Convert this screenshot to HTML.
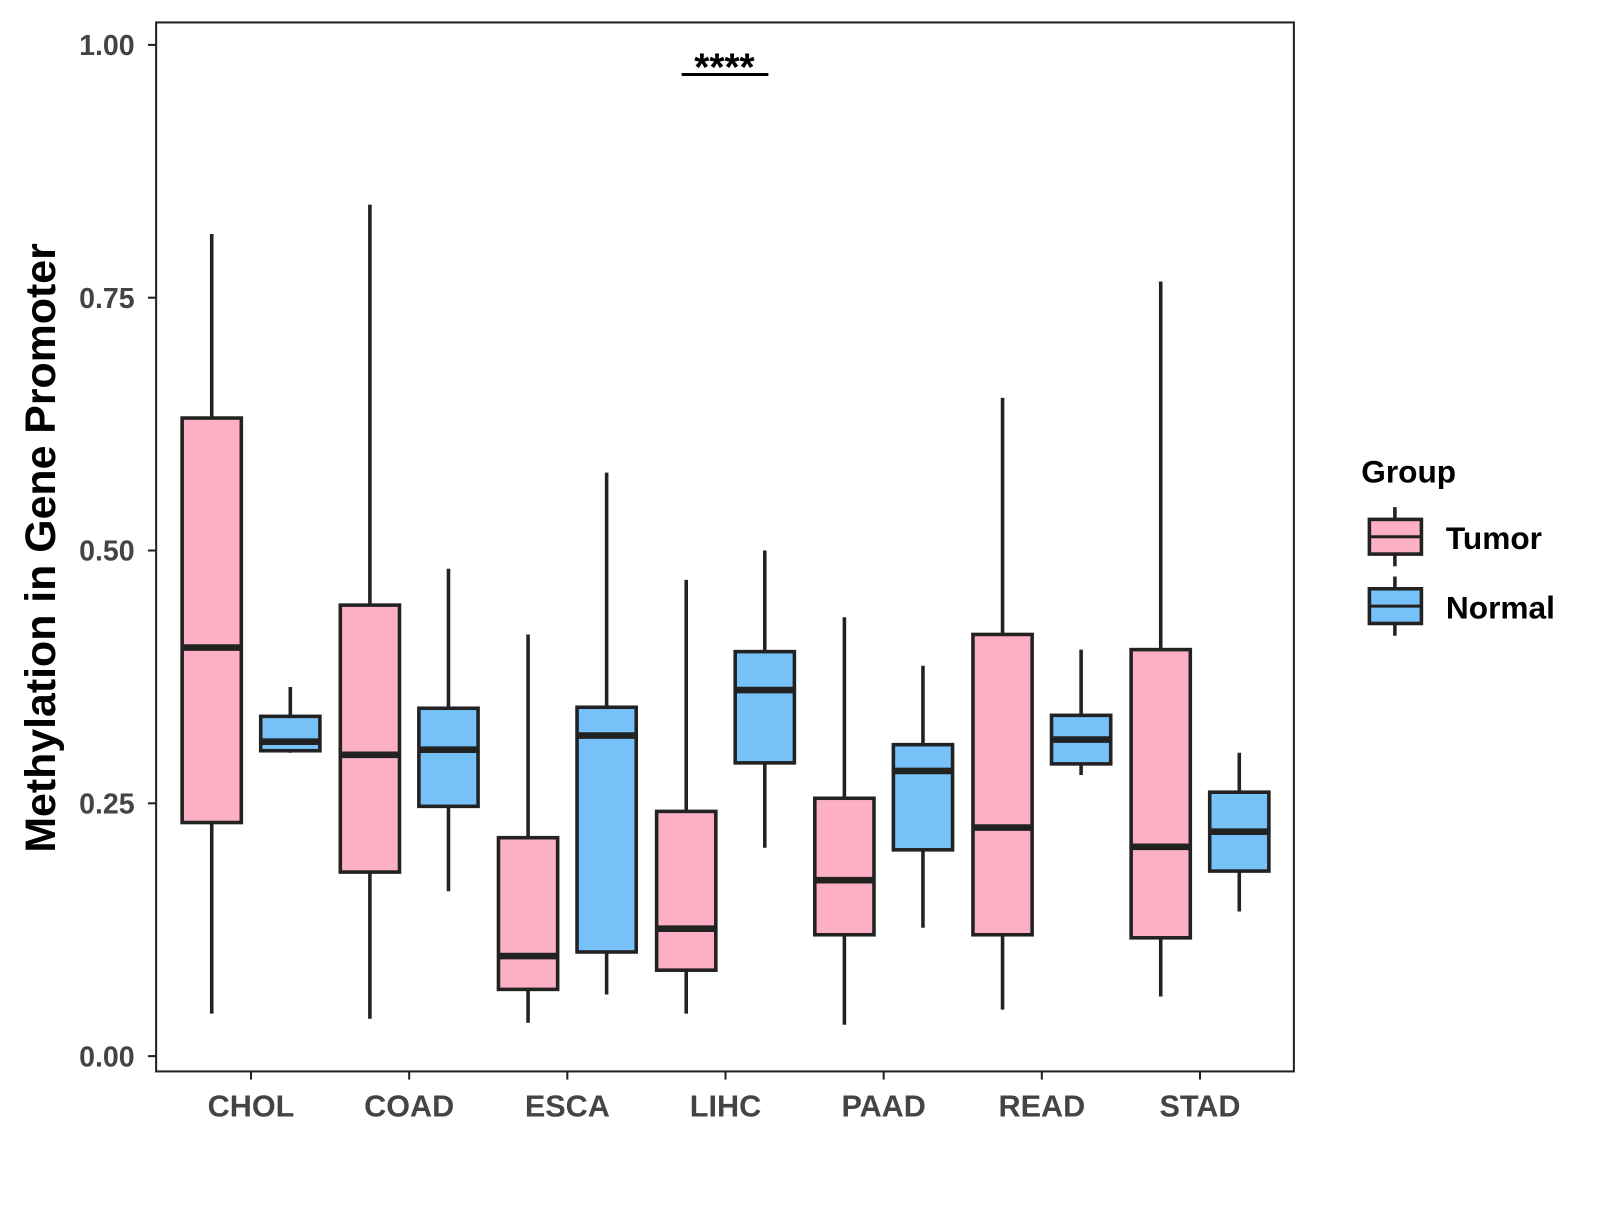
<!DOCTYPE html>
<html><head><meta charset="utf-8"><style>
body{margin:0;background:#fff}
svg text{font-family:"Liberation Sans",Arial,sans-serif;font-weight:bold}
</style></head><body>
<svg id="chart" width="1600" height="1200" viewBox="0 0 1568 1176" xmlns="http://www.w3.org/2000/svg">
<rect x="153" y="22" width="1115" height="1028" fill="#fff" stroke="#222" stroke-width="2"/>
<g id="marks"></g>
<g id="axes"></g>
<text x="0" y="0" transform="translate(54,537) rotate(-90)" text-anchor="middle" font-size="42" fill="#000">Methylation in Gene Promoter</text>
<g>
<line x1="668" y1="73" x2="753" y2="73" stroke="#000" stroke-width="3"/>
<text x="710" y="79" text-anchor="middle" font-size="38" fill="#000">****</text>
</g>
<g>
<text x="1334" y="473" font-size="31" fill="#000">Group</text>
<g>
<line x1="1367" y1="497" x2="1367" y2="555" stroke="#222" stroke-width="3.5"/>
<rect x="1342" y="509" width="51" height="34" fill="#FDB0C3" stroke="#222" stroke-width="3.5"/>
<line x1="1342" y1="526" x2="1393" y2="526" stroke="#222" stroke-width="3"/>
<text x="1417" y="538" font-size="31" fill="#000">Tumor</text>
</g>
<g>
<line x1="1367" y1="565" x2="1367" y2="623" stroke="#222" stroke-width="3.5"/>
<rect x="1342" y="577" width="51" height="34" fill="#75C1F8" stroke="#222" stroke-width="3.5"/>
<line x1="1342" y1="594" x2="1393" y2="594" stroke="#222" stroke-width="3"/>
<text x="1417" y="606" font-size="31" fill="#000">Normal</text>
</g>
</g>
</svg>
<script>
const categories=["CHOL","COAD","ESCA","LIHC","PAAD","READ","STAD"];
const tumorLow=[0.042,0.037,0.033,0.042,0.031,0.046,0.059];
const tumorQ1=[0.231,0.182,0.066,0.085,0.120,0.120,0.117];
const tumorMed=[0.404,0.298,0.099,0.126,0.174,0.226,0.207];
const tumorQ3=[0.631,0.446,0.216,0.242,0.255,0.417,0.402];
const tumorHigh=[0.813,0.842,0.417,0.471,0.434,0.651,0.766];
const normalLow=[0.300,0.163,0.061,0.206,0.127,0.278,0.143];
const normalQ1=[0.302,0.247,0.103,0.290,0.204,0.289,0.183];
const normalMed=[0.311,0.303,0.317,0.362,0.282,0.313,0.222];
const normalQ3=[0.336,0.344,0.345,0.400,0.308,0.337,0.261];
const normalHigh=[0.365,0.482,0.577,0.500,0.386,0.402,0.300];
const yTicks=[0,0.25,0.5,0.75,1.0];
const yTickLabels=["0.00","0.25","0.50","0.75","1.00"];

const NS="http://www.w3.org/2000/svg";
const y=v=>1035-v*991;
const x=i=>246+i*155;
function mk(tag,attrs,parent){const e=document.createElementNS(NS,tag);for(const k in attrs)e.setAttribute(k,attrs[k]);parent.appendChild(e);return e;}
const marks=document.getElementById('marks'),axes=document.getElementById('axes');
const groups=[["tumor",-38.5,"#FDB0C3",tumorLow,tumorQ1,tumorMed,tumorQ3,tumorHigh],["normal",38.5,"#75C1F8",normalLow,normalQ1,normalMed,normalQ3,normalHigh]];
categories.forEach((c,i)=>{
 groups.forEach(g=>{
  const cx=x(i)+g[1],w=58;
  const grp=mk('g',{},marks);
  
  
  mk('line',{x1:cx,x2:cx,y1:y(g[7][i]),y2:y(g[3][i]),stroke:'#222','stroke-width':3.5},grp);
  mk('rect',{x:cx-w/2,y:y(g[6][i]),width:w,height:y(g[4][i])-y(g[6][i]),fill:g[2],stroke:'#222','stroke-width':3.5},grp);
  mk('line',{x1:cx-w/2,x2:cx+w/2,y1:y(g[5][i]),y2:y(g[5][i]),stroke:'#222','stroke-width':6.5},grp);
 });
 const t=mk('line',{x1:x(i),x2:x(i),y1:1050,y2:1058,stroke:'#222','stroke-width':2},axes);
 
 
 const l=mk('text',{x:x(i),y:1094,'text-anchor':'middle','font-size':30,fill:'#444'},axes);
 l.textContent=c;
 
 
});
yTicks.forEach((v,i)=>{
 const t=mk('line',{x1:145,x2:153,y1:y(v),y2:y(v),stroke:'#222','stroke-width':2},axes);
 
 
 const l=mk('text',{x:132,y:y(v)+10,'text-anchor':'end','font-size':28,fill:'#444'},axes);
 l.textContent=yTickLabels[i];
 
 
});
</script>
</body></html>
